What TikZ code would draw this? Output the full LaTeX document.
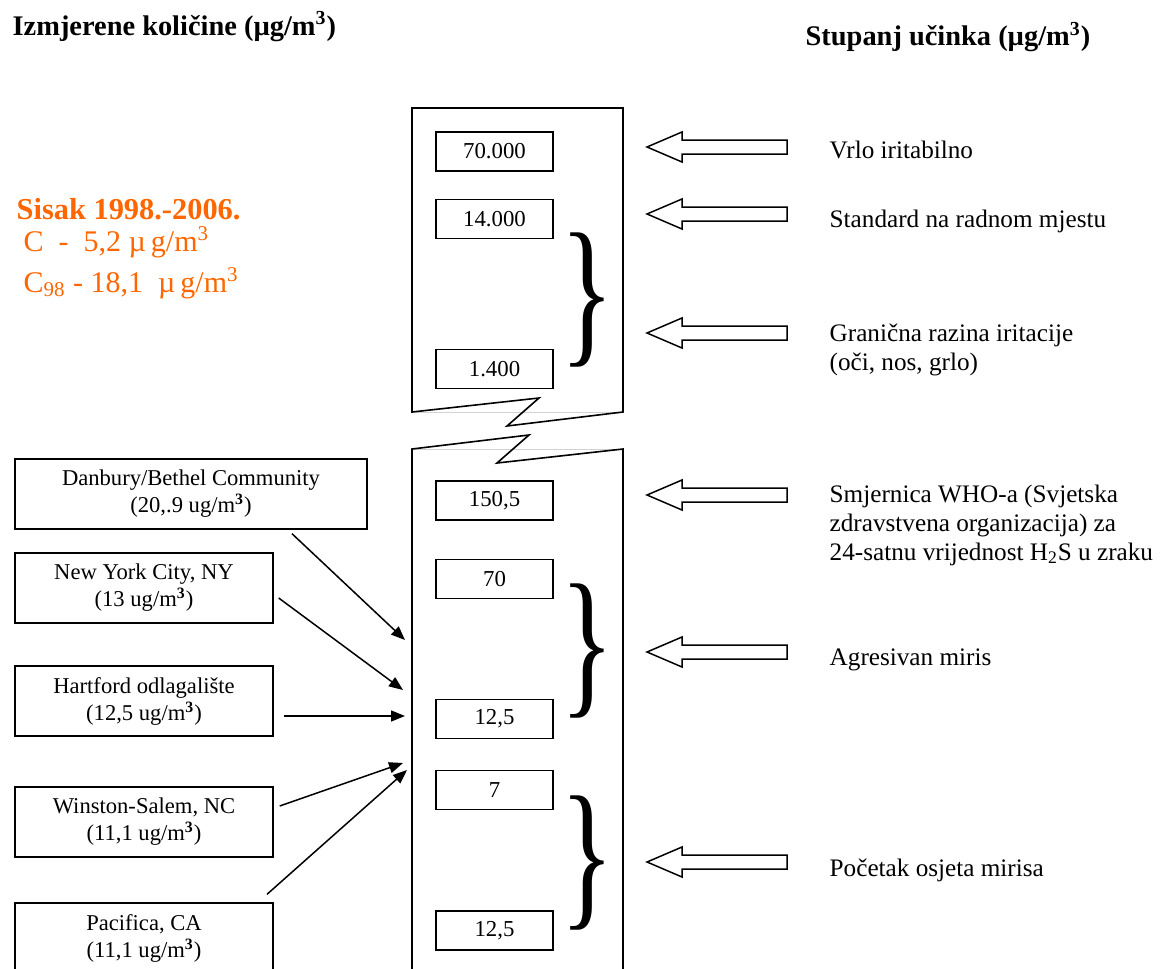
\documentclass[tikz,border=0pt]{standalone}
\usepackage{fontspec}
\setmainfont{Liberation Serif}
\usetikzlibrary{arrows.meta,calc}
\definecolor{sisak}{RGB}{255,102,0}
\begin{document}
\begin{tikzpicture}[x=0.5pt,y=-0.5pt,
  line width=0.7pt,
  numbox/.style={draw, minimum width=58.5pt, minimum height=19.5pt, inner sep=0pt, font=\fontsize{11.4}{13}\selectfont},
  citybox/.style={draw, minimum height=35pt, inner sep=0pt, align=center, font=\fontsize{11.3}{13.5}\selectfont},
  effect/.style={anchor=base west, align=left, inner sep=0pt, font=\fontsize{12.6}{14.35}\selectfont},
  head/.style={anchor=base west, inner sep=0pt, font=\bfseries\fontsize{14.2}{16}\selectfont},
  sis/.style={anchor=base west, inner sep=0pt, text=sisak, font=\fontsize{15}{17}\selectfont},
  conn/.style={-{Triangle[length=7pt,width=5.5pt]}, line width=0.75pt},
  bigbox/.style={line width=0.8pt},
  bracenode/.style={inner sep=0pt},
  harrow/.pic={\draw[line width=0.75pt, fill=white] (0,0) -- (35,-15) -- (35,-7) -- (140,-7) -- (140,7) -- (35,7) -- (35,15) -- cycle;}
]
\useasboundingbox (0,0) rectangle (1163,969);
\clip (0,0) rectangle (1163,969);

% headers
\node[head] (h1) at (12,35) {Izmjerene količine (µg/m\textsuperscript{3})};
\node[head] (h2) at (805,46) {Stupanj učinka (µg/m\textsuperscript{3})};

% Sisak
\node[sis, text depth=0pt, font=\bfseries\fontsize{15.2}{17}\selectfont] (s1) at (16,219) {Sisak 1998.-2006.};
\node[sis] (s2) at (23,251) {C\ \ -\ \ 5,2 µ\,g/m\textsuperscript{3}};
\node[sis] (s3) at (23,292) {C\textsubscript{98} - 18,1\ \ µ\,g/m\textsuperscript{3}};

% big box with break
\draw[gray!35, line width=0.5pt] (412,412) -- (623,412);
\draw[gray!35, line width=0.5pt] (412,449) -- (623,449);
\draw[bigbox, line join=miter] (412,108) -- (412,412) -- (539,398) -- (507,426) -- (623,412) -- (623,108) -- cycle;
\draw[bigbox, line join=miter] (412,985) -- (412,449) -- (529,435) -- (497,463) -- (623,449) -- (623,985);

% number boxes
\node[numbox] (n1) at (494.5,151.5) {70.000};
\node[numbox] (n2) at (494.5,219) {14.000};
\node[numbox] (n3) at (494.5,369) {1.400};
\node[numbox] (n4) at (494.5,500.5) {150,5};
\node[numbox] (n5) at (494.5,579) {70};
\node[numbox] (n6) at (494.5,719) {12,5};
\node[numbox] (n7) at (494.5,790) {7};
\node[numbox] (n8) at (494.5,930.5) {12,5};

% braces
\node[bracenode] (b1) at (587,300) {\scalebox{1}[1.45]{\fontsize{56}{56}\selectfont\}}};
\node[bracenode] (b2) at (587,651.5) {\scalebox{1}[1.45]{\fontsize{56}{56}\selectfont\}}};
\node[bracenode] (b3) at (587,863.5) {\scalebox{1}[1.45]{\fontsize{56}{56}\selectfont\}}};

% hollow arrows
\pic at (647,147) {harrow};
\pic at (647,214) {harrow};
\pic at (647,333) {harrow};
\pic at (647,495) {harrow};
\pic at (647,652) {harrow};
\pic at (647,862) {harrow};

% effect texts (base = baseline of last line)
\node[effect] (e1) at (829,158) {Vrlo iritabilno};
\node[effect] (e2) at (829,227) {Standard na radnom mjestu};
\node[effect] (e3) at (829,370) {Granična razina iritacije\\(oči, nos, grlo)};
\node[effect] (e4) at (829,560) {Smjernica WHO-a (Svjetska\\zdravstvena organizacija) za\\24-satnu vrijednost H\textsubscript{2}S u zraku};
\node[effect] (e5) at (829,665) {Agresivan miris};
\node[effect] (e6) at (829,876) {Početak osjeta mirisa};

% city boxes
\node[citybox, minimum width=176pt] (dan) at (191,494) {Danbury/Bethel Community\\(20,.9 ug/m\textsuperscript{\textbf{3}})};
\node[citybox, minimum width=129pt] (nyc) at (144,588) {New York City, NY\\(13 ug/m\textsuperscript{\textbf{3}})};
\node[citybox, minimum width=129pt] (hart) at (144,701) {Hartford odlagalište\\(12,5 ug/m\textsuperscript{\textbf{3}})};
\node[citybox, minimum width=129pt] (win) at (144,822) {Winston-Salem, NC\\(11,1 ug/m\textsuperscript{\textbf{3}})};
\node[citybox, minimum width=129pt] (pac) at (144,938) {Pacifica, CA\\(11,1 ug/m\textsuperscript{\textbf{3}})};

% connectors
\coordinate (t1) at (405,640);
\coordinate (t2) at (403,690);
\coordinate (t3) at (405,716);
\coordinate (t4) at (403,763);
\coordinate (t5) at (407,770);
\draw[conn] ($(dan.south)+(101,4)$) -- (t1);
\draw[conn] ($(nyc.east)+(5,10)$) -- (t2);
\draw[conn] ($(hart.east)+(10,15)$) -- (t3);
\draw[conn] ($(win.east)+(6,-16)$) -- (t4);
\draw[conn] ($(pac.north)+(123,-8)$) -- (t5);
\end{tikzpicture}
\end{document}
